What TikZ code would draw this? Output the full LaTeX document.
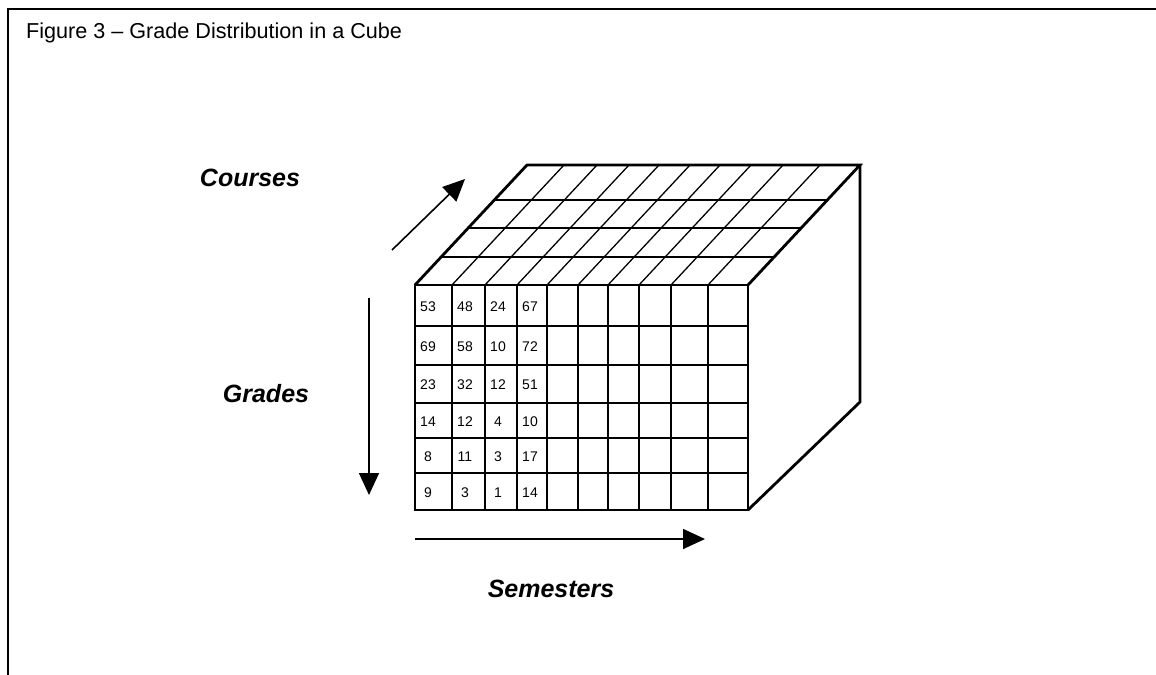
\documentclass[tikz,border=0pt]{standalone}
\usepackage{fontspec}
\setmainfont{Liberation Sans}
\usetikzlibrary{calc}
\usetikzlibrary{arrows.meta}

\begin{document}
\begin{tikzpicture}[
  x=1bp, y=-1bp,
  figtitle/.style={anchor=base west, inner sep=0pt,
                   font=\fontsize{21.6bp}{26bp}\selectfont},
  axislabel/.style={anchor=base, inner sep=0pt,
                    font=\fontsize{25bp}{30bp}\selectfont\bfseries\itshape},
  num/.style={anchor=base, inner sep=0pt, font=\fontsize{14bp}{16bp}\selectfont},
  rim/.style={line width=2.8bp, line join=miter},
  cellline/.style={line width=1.3bp},
  axis/.style={-{Triangle[length=22bp, width=20bp]}, line width=1.6bp},
  pageframe/.style={line width=1.8bp}
]
\useasboundingbox (0,0) rectangle (1156,675);

%% ---------- frame and title ----------
\draw[pageframe] (1156,9) -- (8,9) -- (8,675);
\node[figtitle] (title) at (26,39) {Figure 3 – Grade Distribution in a Cube};

%% ---------- cube corners ----------
\coordinate (fl) at (415,285);
\coordinate (fr) at (748,285);
\coordinate (bl) at (415,510);
\coordinate (br) at (748,510);
\coordinate (kl) at ($(fl)+(112,-120)$);
\coordinate (kr) at ($(fr)+(112,-120)$);
\coordinate (kb) at (860,402);

%% ---------- front face grid ----------
\foreach \x in {452,485,517,547,578,608,639,671,708}
  \draw[cellline] (\x,285) -- (\x,510);
\foreach \y in {326,365,403,438,473}
  \draw[cellline] (415,\y) -- (748,\y);

%% ---------- top face grid ----------
\foreach \x in {452,485,517,547,578,608,639,671,708}
  \draw[cellline] (\x,285) -- ++(112,-120);
\foreach \t in {0.233,0.475,0.708}
  \draw[cellline] ($(fl)!\t!(kl)$) -- ($(fr)!\t!(kr)$);

%% ---------- outline ----------
\draw[rim] (fl) rectangle (br);
\draw[rim] (fl) -- (kl) -- (kr) -- (fr);
\draw[rim] (kr) -- (kb) -- (br);

%% ---------- counts ----------
\foreach \row [count=\r] in {{53,48,24,67},{69,58,10,72},{23,32,12,51},
                             {14,12,4,10},{8,11,3,17},{9,3,1,14}} {
  \foreach \v [count=\c] in \row {
    \pgfmathsetmacro\nx{{415,452,485,517}[\c-1]+13}
    \pgfmathsetmacro\ny{{311,351,389,426,461,497}[\r-1]}
    \node[num] (n-\r-\c) at (\nx,\ny) {\v};
  }
}

%% ---------- axes ----------
\coordinate (cs) at (392,250);
\coordinate (ce) at (465,179);
\coordinate (gs) at (369,298);
\coordinate (ge) at (369,495);
\coordinate (ss) at (415,539);
\coordinate (se) at (705,539);
\draw[axis] (cs) -- (ce);
\draw[axis] (gs) -- (ge);
\draw[axis] (ss) -- (se);

\node[axislabel] (courses) at (250,187) {Courses};
\node[axislabel] (grades) at (266,402) {Grades};
\node[axislabel] (semesters) at (551,597) {Semesters};
\end{tikzpicture}
\end{document}
